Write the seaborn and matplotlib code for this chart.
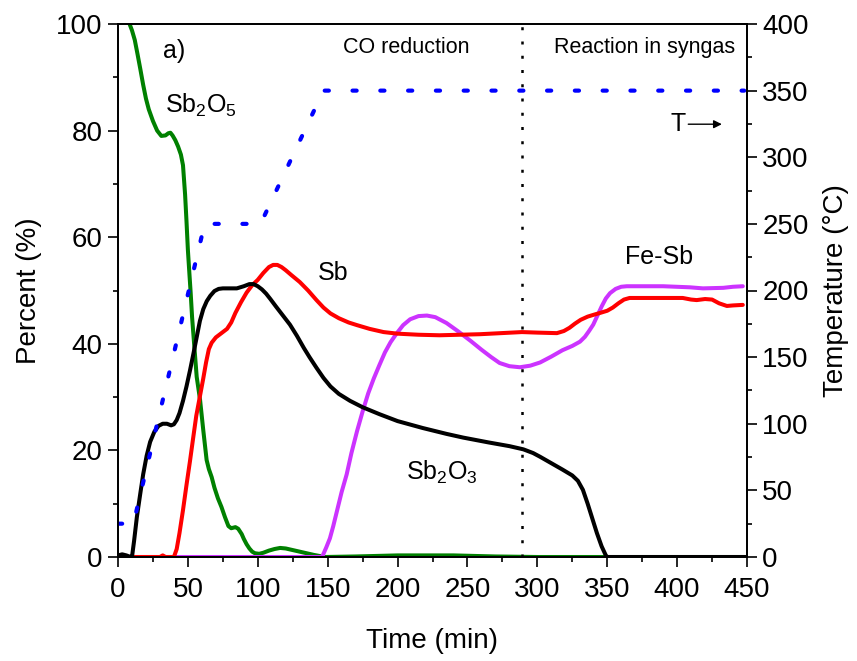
import matplotlib
matplotlib.use("Agg")
import matplotlib.pyplot as plt
from matplotlib.ticker import MultipleLocator
import seaborn as sns
import pandas as pd

# ---- data ----
t_sb2o5 = [0, 5, 8, 10, 12, 14, 16, 18, 20, 22, 25, 28, 31, 34, 36, 37.5, 39, 41, 43, 45, 46.5, 48, 49, 50, 51,
           52, 53, 54.6, 56.3, 58.7, 61, 63.4, 65, 67, 69, 71.5, 74, 76.5, 79, 81, 84, 86, 88.5, 90, 92, 94, 96,
           98, 101, 104, 108, 112, 116, 120, 125, 130, 135, 140, 144, 148, 170, 200, 240, 270, 300, 450]
v_sb2o5 = [100.5, 100.5, 100.2, 98.8, 97, 94.3, 91.5, 88.6, 86, 84, 81.8, 80, 79, 79.1, 79.5, 79.6, 79.1, 78.2, 77, 75.5, 73.5, 68, 63, 57.6, 53.5,
           49.5, 45, 39.5, 33.8, 29.5, 23.8, 18.2, 16.5, 15, 13, 11, 9.4, 7.5, 5.8, 5.4, 5.6, 5.3, 4.3, 3.4, 2.4, 1.6, 1,
           0.7, 0.6, 0.8, 1.2, 1.5, 1.7, 1.6, 1.3, 1, 0.7, 0.4, 0.2, 0, 0.1, 0.3, 0.3, 0.1, 0, 0]

t_sb2o3 = [0, 3, 6, 9, 10, 11.5, 13.5, 16, 18, 20.5, 23, 26, 29, 32, 35, 38, 40, 42, 44, 46.5, 49, 51.5, 54, 56.5,
           58.6, 61, 63.5, 66, 69, 72, 75, 80, 85, 90, 94, 97, 100, 103, 106, 109, 113, 118, 123, 128, 133, 137,
           142, 147, 152, 158, 166, 175, 187, 200, 218, 235, 247, 265, 280, 290, 297, 302, 310, 318, 325, 329,
           332.6, 336, 339, 342.6, 346, 349, 350, 450]
v_sb2o3 = [0.3, 0.5, 0.3, 0, 0, 3, 7.5, 12, 15.5, 19, 21.6, 23.5, 24.6, 25, 25, 24.7, 24.9, 25.7, 27, 29.3, 32, 35, 38.2, 41.5,
           44.3, 46.5, 48, 49, 49.9, 50.3, 50.4, 50.4, 50.4, 50.8, 51.2, 51.2, 50.8, 50.2, 49.4, 48.4, 47, 45.3, 43.6, 41.5, 39.2, 37.5,
           35.5, 33.6, 32, 30.6, 29.3, 28.1, 26.8, 25.5, 24.2, 23.1, 22.4, 21.5, 20.8, 20.2, 19.5, 18.8, 17.6, 16.4, 15.3, 14.3,
           12.6, 10, 7.5, 4.5, 2, 0.3, 0, 0]

t_sb = [0, 30, 32, 34, 40, 42, 44, 46.5, 49, 51.5, 53.6, 56, 58.5, 61, 63, 65, 67, 70, 74, 78, 81, 84, 88, 92, 96,
        100, 104, 108, 111, 114, 117, 120, 124, 130, 136, 142, 147, 152, 158, 165, 171, 180, 190, 200, 215, 230,
        259, 289, 300, 314, 319, 323, 327, 331, 336, 341, 345, 350, 354, 358, 362, 366, 390, 404, 410, 414, 420,
        425, 430, 435.6, 440, 447]
v_sb = [0, 0, 0.3, 0, 0, 1.5, 4.5, 8.8, 13.5, 18, 22, 26.5, 30, 33.5, 36.5, 39, 40.2, 41.2, 42, 42.8, 44, 45.8, 47.8, 49.6, 51,
        52, 53.3, 54.4, 54.8, 54.8, 54.4, 53.8, 52.9, 51.6, 50, 48.2, 46.8, 45.7, 44.8, 44, 43.5, 42.8, 42.2, 41.9, 41.7, 41.6,
        41.8, 42.2, 42.1, 42, 42.4, 43, 43.8, 44.5, 45.1, 45.5, 45.8, 46.2, 46.8, 47.6, 48.3, 48.6, 48.6, 48.6, 48.3, 48.2, 48.4,
        48.3, 47.6, 47.1, 47.2, 47.3]

t_fesb = [0, 146, 149, 151.6, 154, 157, 160, 163.6, 167, 171, 175, 179, 183, 187, 191, 195, 199.5, 204, 209, 215,
          221, 227, 235, 243, 252, 260, 267, 273, 280, 287.5, 295, 302, 310, 318, 325, 330.5, 334, 337, 340, 343,
          346, 349, 352, 356, 360, 364, 390, 409, 418.5, 433, 440, 447]
v_fesb = [0, 0, 1.8, 3.5, 5.8, 9, 12.2, 15.5, 19.5, 23.6, 27.3, 30.7, 33.5, 36, 38.4, 40.3, 42, 43.5, 44.6, 45.2,
          45.3, 45, 43.9, 42.4, 40.6, 38.9, 37.5, 36.4, 35.8, 35.6, 35.9, 36.5, 37.6, 38.8, 39.6, 40.4, 41.3, 42.4, 43.6, 45.3,
          47, 48.5, 49.5, 50.3, 50.7, 50.8, 50.8, 50.6, 50.4, 50.5, 50.7, 50.8]

t_temp = [0, 11, 62, 102, 147, 448]
v_temp = [25, 25, 250, 250, 350, 350]

t_switch = 289

# ---- style ----
sns.set_style("ticks")
plt.rcParams["font.family"] = ["Liberation Sans", "DejaVu Sans"]
plt.rcParams["mathtext.default"] = "regular"
plt.rcParams["axes.linewidth"] = 1.3
plt.rcParams["text.color"] = "black"
plt.rcParams["axes.labelcolor"] = "black"
plt.rcParams["axes.edgecolor"] = "black"
for ax_ in ("xtick", "ytick"):
    plt.rcParams[f"{ax_}.direction"] = "out"
    plt.rcParams[f"{ax_}.major.size"] = 7
    plt.rcParams[f"{ax_}.minor.size"] = 3.6
    plt.rcParams[f"{ax_}.major.width"] = 1.2
    plt.rcParams[f"{ax_}.minor.width"] = 1.2
    plt.rcParams[f"{ax_}.color"] = "black"
    plt.rcParams[f"{ax_}.labelcolor"] = "black"
plt.rcParams["ytick.major.pad"] = 4
plt.rcParams["xtick.major.pad"] = 7.5

fig = plt.figure(figsize=(8.57, 6.61), dpi=100)
ax = fig.add_axes([118 / 857, 1 - 557 / 661, (747 - 118) / 857, (557 - 24) / 661])
ax2 = ax.twinx()

lw = 2.9
kw = dict(lw=lw, estimator=None, solid_joinstyle="round", solid_capstyle="round")
sns.lineplot(data=pd.DataFrame({"t": t_sb2o5, "v": v_sb2o5}), x="t", y="v", ax=ax, color="#008000", **kw)
sns.lineplot(data=pd.DataFrame({"t": t_fesb, "v": v_fesb}), x="t", y="v", ax=ax, color="#cc33ff", **kw)
sns.lineplot(data=pd.DataFrame({"t": t_sb, "v": v_sb}), x="t", y="v", ax=ax, color="#ff0000", **kw)
sns.lineplot(data=pd.DataFrame({"t": t_sb2o3, "v": v_sb2o3}), x="t", y="v", ax=ax, color="black", **kw)
ax.axvline(t_switch, color="black", lw=1.8, linestyle=(0, (1.2, 4.5)))

sns.lineplot(data=pd.DataFrame({"t": t_temp, "v": v_temp}), x="t", y="v", ax=ax2, color="#0000ff", lw=3,
             estimator=None, linestyle=(0, (1, 5.67)), dash_capstyle="round")

ax.set_xlim(0, 450)
ax.set_ylim(0, 100)
ax2.set_ylim(0, 400)
ax.xaxis.set_major_locator(MultipleLocator(50))
ax.xaxis.set_minor_locator(MultipleLocator(25))
ax.yaxis.set_major_locator(MultipleLocator(20))
ax.yaxis.set_minor_locator(MultipleLocator(10))
ax2.yaxis.set_major_locator(MultipleLocator(50))
ax2.yaxis.set_minor_locator(MultipleLocator(25))

fs = 20
ax.tick_params(labelsize=fs, which="both")
ax2.tick_params(labelsize=fs, which="both")
ax.set_xlabel("Time (min)", fontsize=fs, labelpad=18)
ax.set_ylabel("Percent (%)", fontsize=fs, labelpad=10)
ax2.set_ylabel("Temperature (°C)", fontsize=fs, labelpad=10)
for sp in ax.spines.values():
    sp.set_visible(True)
for sp in ax2.spines.values():
    sp.set_visible(True)

# annotations
tf = 18
ax.text(32, 95, "a)", fontsize=tf, ha="left", va="center")
ax.text(33.6, 83.3, r"Sb$_2$O$_5$", fontsize=tf, ha="left", va="baseline")
ax.text(143, 53.3, "Sb", fontsize=tf, ha="left", va="center")
ax.text(362.7, 56.3, "Fe-Sb", fontsize=tf, ha="left", va="center")
ax.text(206, 14.4, r"Sb$_2$O$_3$", fontsize=tf, ha="left", va="baseline")
ax.text(206, 95.5, "CO reduction", fontsize=15.5, ha="center", va="center")
ax.text(377, 95.5, "Reaction in syngas", fontsize=15.5, ha="center", va="center")
ax.text(395, 81.2, "T", fontsize=tf, ha="left", va="center")
ax.annotate("", xy=(434, 81.2), xytext=(406, 81.2),
            arrowprops=dict(arrowstyle="-|>", color="black", lw=1, mutation_scale=12))

fig.savefig("out.png", dpi=100)
